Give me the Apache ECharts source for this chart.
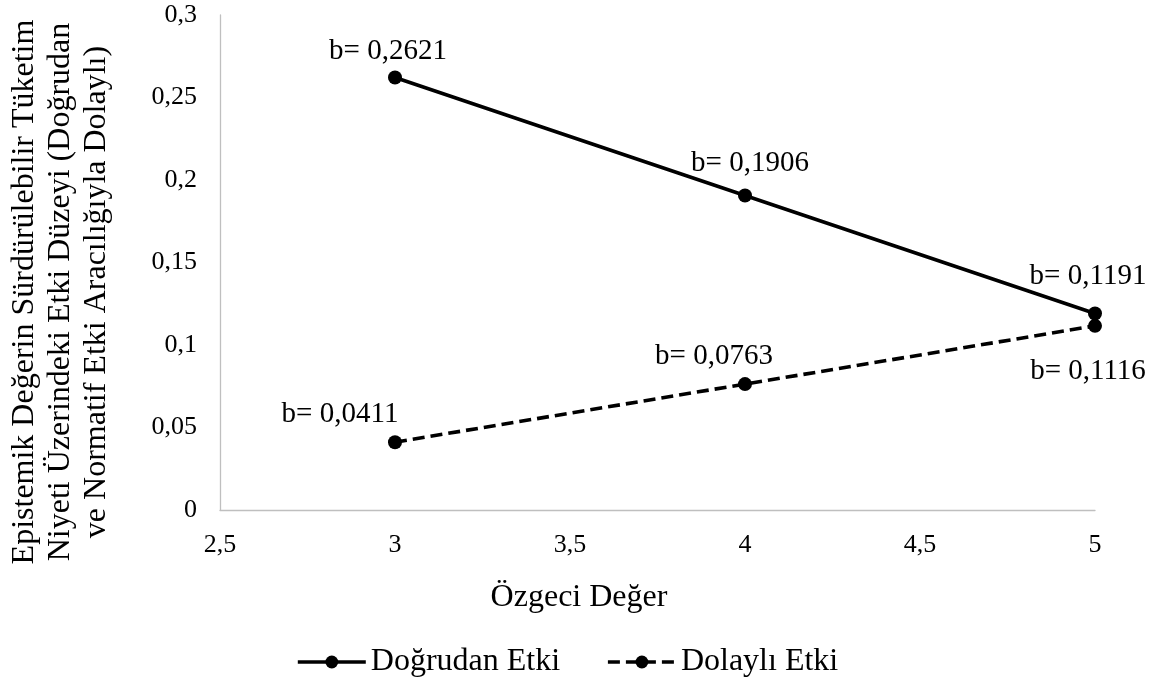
<!DOCTYPE html>
<html>
<head>
<meta charset="utf-8">
<script src="https://cdn.jsdelivr.net/npm/echarts@6/dist/echarts.min.js"></script>
<style>
  html, body { margin: 0; padding: 0; background: #ffffff; }
  #chart { width: 1158px; height: 680px; }
</style>
</head>
<body>
<div id="chart"></div>
<script>
// ---- data ----
const xValues = [3, 4, 5];
const directEffect = [0.2621, 0.1906, 0.1191];
const indirectEffect = [0.0411, 0.0763, 0.1116];
const seriesNames = ['Doğrudan Etki', 'Dolaylı Etki'];
const xAxisTitle = 'Özgeci Değer';
const yAxisTitleLines = [
  'Epistemik Değerin Sürdürülebilir Tüketim',
  'Niyeti Üzerindeki Etki Düzeyi (Doğrudan',
  've Normatif Etki Aracılığıyla Dolaylı)'
];
const xMin = 2.5, xMax = 5, xStep = 0.5;
const yMin = 0, yMax = 0.3, yStep = 0.05;

// ---- label placement (style) ----
const directLabelOffsets = [[-7, -26], [5, -32], [-7, -37]];
const indirectLabelOffsets = [[-55, -28], [-31, -28], [-7, 46]];

const FONT = "'Liberation Serif', 'Times New Roman', serif";
const comma = v => String(v).replace('.', ',');

function buildData(values, offsets) {
  return xValues.map((x, i) => ({
    value: [x, values[i]],
    label: { offset: offsets[i] }
  }));
}

const labelStyle = {
  show: true,
  position: 'inside',
  formatter: p => 'b= ' + p.value[1].toFixed(4).replace('.', ','),
  fontFamily: FONT,
  fontSize: 29,
  color: '#000'
};

const chart = echarts.init(document.getElementById('chart'), null, { renderer: 'canvas' });
chart.setOption({
  backgroundColor: '#ffffff',
  animation: false,
  grid: { left: 220, right: 63, top: 15, bottom: 170, containLabel: false },
  xAxis: {
    type: 'value', min: xMin, max: xMax, interval: xStep,
    axisLine: { show: true, onZero: false, lineStyle: { color: '#bfbfbf', width: 1.3 } },
    axisTick: { show: false },
    splitLine: { show: false },
    axisLabel: { formatter: comma, fontFamily: FONT, fontSize: 26, color: '#000', margin: 22 }
  },
  yAxis: {
    type: 'value', min: yMin, max: yMax, interval: yStep,
    axisLine: { show: true, lineStyle: { color: '#bfbfbf', width: 1.3 } },
    axisTick: { show: false },
    splitLine: { show: false },
    axisLabel: { formatter: comma, fontFamily: FONT, fontSize: 26, color: '#000', margin: 23 }
  },
  legend: {
    left: 291, top: 641,
    itemWidth: 68, itemHeight: 16, itemGap: 46,
    lineStyle: { width: 3.6 },
    textStyle: { fontFamily: FONT, fontSize: 32, color: '#000', padding: [0, 0, 0, 0] },
    data: seriesNames
  },
  graphic: [
    {
      type: 'text', left: 'center', top: 582, silent: true,
      style: { text: xAxisTitle, font: '32px ' + FONT, fill: '#000' }
    },
    {
      type: 'text', x: 61, y: 292, rotation: Math.PI / 2, silent: true,
      style: {
        text: yAxisTitleLines.join('\n'), font: '32px ' + FONT, fill: '#000',
        align: 'center', verticalAlign: 'middle', lineHeight: 36
      }
    }
  ],
  series: [
    {
      name: seriesNames[0], type: 'line',
      data: buildData(directEffect, directLabelOffsets),
      symbol: 'circle', symbolSize: 14,
      lineStyle: { color: '#000', width: 3.6, type: 'solid' },
      itemStyle: { color: '#000' },
      label: labelStyle
    },
    {
      name: seriesNames[1], type: 'line',
      data: buildData(indirectEffect, indirectLabelOffsets),
      symbol: 'circle', symbolSize: 14,
      lineStyle: { color: '#000', width: 3.6, type: [12, 6] },
      itemStyle: { color: '#000' },
      label: labelStyle
    }
  ]
});
</script>
</body>
</html>
